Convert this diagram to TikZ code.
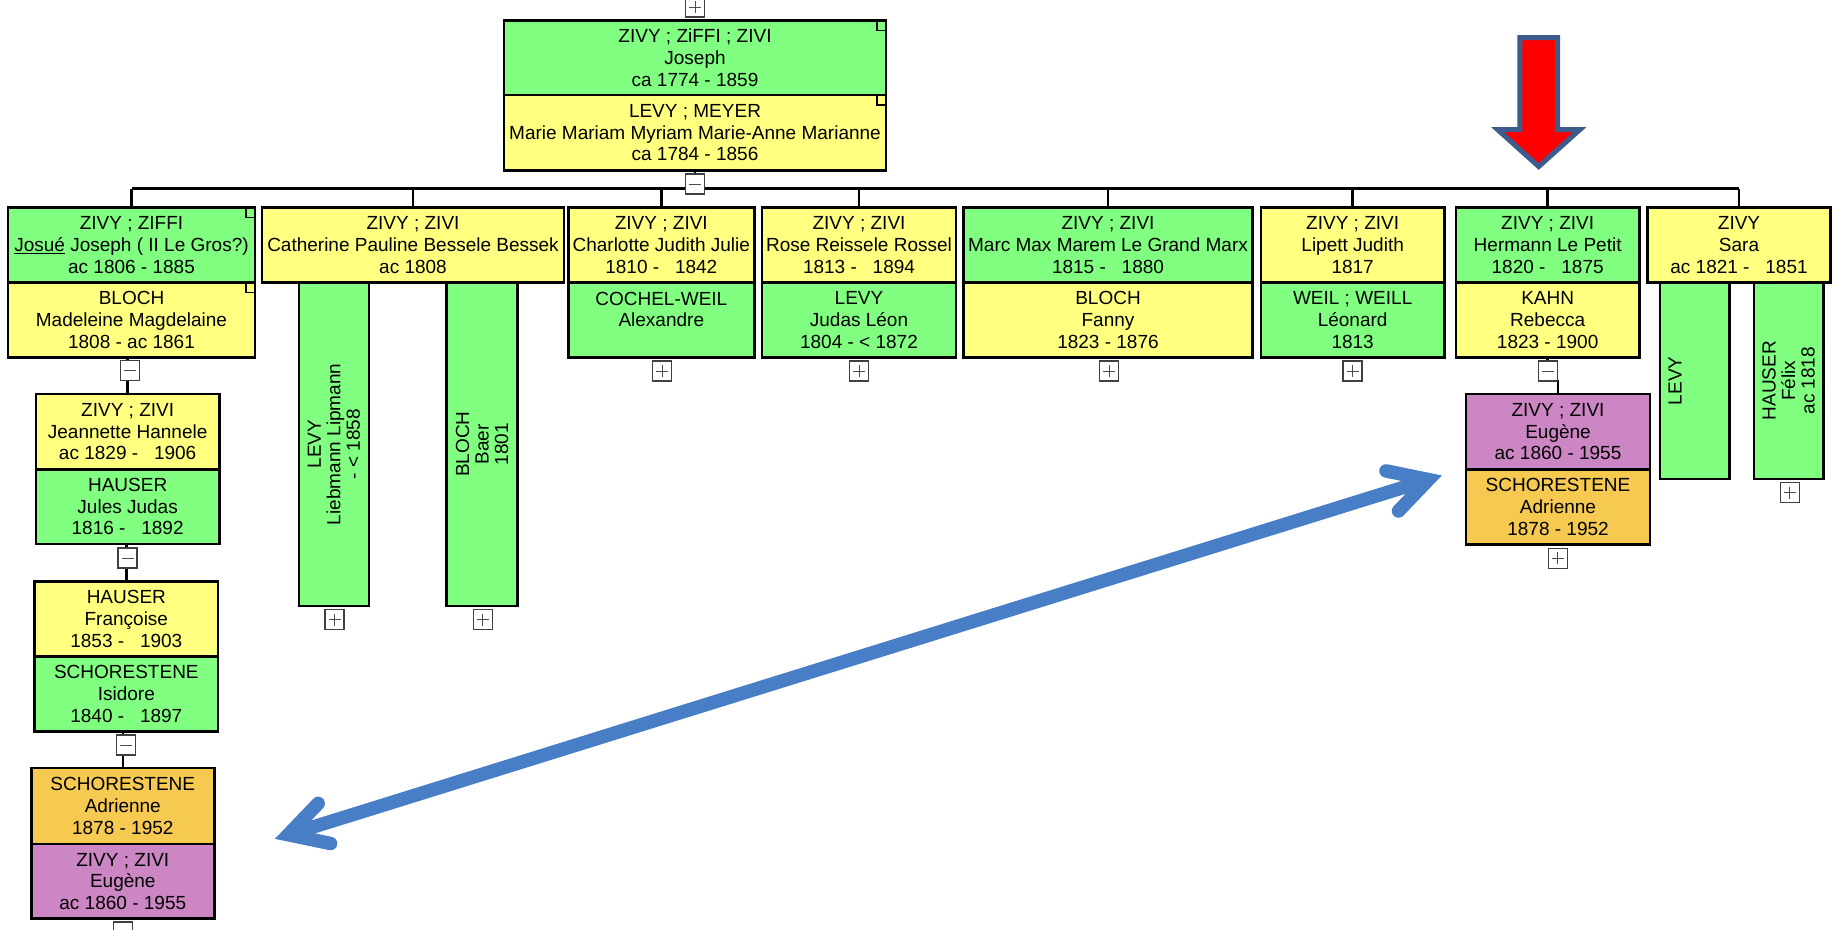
\documentclass[tikz,border=0pt]{standalone}
\usepackage{fontspec}
\setmainfont{Liberation Sans}
\definecolor{pgreen}{RGB}{128,255,128}
\definecolor{pyellow}{RGB}{255,255,128}
\definecolor{ppurple}{RGB}{204,134,196}
\definecolor{porange}{RGB}{246,202,80}
\definecolor{arrowblue}{RGB}{71,126,198}
\definecolor{redline}{RGB}{59,92,140}
\newcommand{\pfont}{\fontsize{19}{21.7}\selectfont}
\newcommand{\vfont}{\fontsize{19}{19.5}\selectfont}
% person box by corners: name, colour, x1, y1, x2, y2, text
\newcommand{\pbx}[7]{\node[pbox,fill=#2,minimum width={#5-#3},minimum height={#6-#4}] (#1) at ({(#3+#5)/2},{(#4+#6)/2}) {#7};}
% vertical (rotated) person box: name, x1, y1, x2, y2, text
\newcommand{\vbx}[6]{\node[vbox,minimum width={#5-#3},minimum height={#4-#2}] (#1) at ({(#2+#4)/2},{(#3+#5)/2}) {#6};}
\begin{document}
\begin{tikzpicture}[x=1pt,y=-1pt,
  pbox/.style={draw,line width=2.6pt,inner sep=0pt,outer sep=0pt,align=center,font=\pfont},
  vbox/.style={pbox,fill=pgreen,rotate=90,font=\vfont},
  conn/.style={draw,line width=2.4pt},
  corner/.style={draw,line width=1.2pt},
  ctrl/.style={draw=black!75,fill=white,line width=1.1pt,minimum width=19pt,minimum height=20pt,inner sep=0pt},
  minusbox/.style={ctrl,path picture={\draw[line width=1pt,black!70] ([xshift=-6pt]path picture bounding box.center) -- ([xshift=6pt]path picture bounding box.center);}},
  plusbox/.style={ctrl,path picture={\draw[line width=1pt,black!70] ([xshift=-6pt]path picture bounding box.center) -- ([xshift=6pt]path picture bounding box.center) ([yshift=-6pt]path picture bounding box.center) -- ([yshift=6pt]path picture bounding box.center);}},
  bluearrow/.style={draw=arrowblue,line width=13.5pt},
  redarrow/.style={draw=redline,fill=red,line width=5pt,line join=miter}
]
\useasboundingbox (0,0) rectangle (1833,929);
\clip (0,0) rectangle (1833,929);
\fill[white] (0,0) rectangle (1833,929);

% ---------- person boxes ----------
\pbx{topA}{pgreen}{504}{20.7}{886}{95}{ZIVY ; ZiFFI ; ZIVI\\Joseph\\ca 1774 - 1859}
\pbx{topB}{pyellow}{504}{95}{886}{170.7}{LEVY ; MEYER\\Marie Mariam Myriam Marie-Anne Marianne\\ca 1784 - 1856}

\pbx{josA}{pgreen}{8}{207.7}{255}{282.5}{ZIVY ; ZIFFI\\\underline{Josué} Joseph ( II Le Gros?)\\ac 1806 - 1885}
\pbx{josB}{pyellow}{8}{282.5}{255}{357.7}{BLOCH\\Madeleine Magdelaine\\1808 - ac 1861}

\pbx{cath}{pyellow}{262}{207.7}{564}{282.5}{ZIVY ; ZIVI\\Catherine Pauline Bessele Bessek\\ac 1808}
\vbx{cathL}{299}{282.5}{369}{606}{LEVY\\Liebmann Lipmann\\- < 1858}
\vbx{cathB}{446.7}{282.5}{517.3}{606}{BLOCH\\Baer\\1801}

\pbx{chaA}{pyellow}{568.3}{207.7}{754.3}{282.5}{ZIVY ; ZIVI\\Charlotte Judith Julie\\1810 -~~~1842}
\pbx{chaB}{pgreen}{568.3}{282.5}{754.3}{357.7}{COCHEL-WEIL\\Alexandre\\~}

\pbx{rosA}{pyellow}{762}{207.7}{956}{282.5}{ZIVY ; ZIVI\\Rose Reissele Rossel\\1813 -~~~1894}
\pbx{rosB}{pgreen}{762}{282.5}{956}{357.7}{LEVY\\Judas Léon\\1804 - < 1872}

\pbx{marA}{pgreen}{963.3}{207.7}{1252.7}{282.5}{ZIVY ; ZIVI\\Marc Max Marem Le Grand Marx\\1815 -~~~1880}
\pbx{marB}{pyellow}{963.3}{282.5}{1252.7}{357.7}{BLOCH\\Fanny\\1823 - 1876}

\pbx{lipA}{pyellow}{1261}{207.7}{1444.3}{282.5}{ZIVY ; ZIVI\\Lipett Judith\\1817}
\pbx{lipB}{pgreen}{1261}{282.5}{1444.3}{357.7}{WEIL ; WEILL\\Léonard\\1813}

\pbx{herA}{pgreen}{1456}{207.7}{1639.3}{282.5}{ZIVY ; ZIVI\\Hermann Le Petit\\1820 -~~~1875}
\pbx{herB}{pyellow}{1456}{282.5}{1639.3}{357.7}{KAHN\\Rebecca\\1823 - 1900}

\pbx{sara}{pyellow}{1647.3}{207.7}{1830.7}{282.5}{ZIVY\\Sara\\ac 1821 -~~~1851}
\vbx{saraL}{1660}{282.5}{1729.3}{479}{LEVY\\~\\~}
\vbx{saraH}{1754}{282.5}{1823.3}{479}{HAUSER\\Félix\\ac 1818}

\pbx{eugA}{ppurple}{1466}{394}{1650}{469.3}{ZIVY ; ZIVI\\Eugène\\ac 1860 - 1955}
\pbx{eugB}{porange}{1466}{469.3}{1650}{544.3}{SCHORESTENE\\Adrienne\\1878 - 1952}

\pbx{jeaA}{pyellow}{36}{394}{219.3}{469.3}{ZIVY ; ZIVI\\Jeannette Hannele\\ac 1829 -~~~1906}
\pbx{jeaB}{pgreen}{36}{469.3}{219.3}{544}{HAUSER\\Jules Judas\\1816 -~~~1892}

\pbx{fraA}{pyellow}{34.7}{581.3}{218}{656.6}{HAUSER\\Françoise\\1853 -~~~1903}
\pbx{fraB}{pgreen}{34.7}{656.6}{218}{731.2}{SCHORESTENE\\Isidore\\1840 -~~~1897}

\pbx{adrA}{porange}{31.3}{768}{214.3}{844}{SCHORESTENE\\Adrienne\\1878 - 1952}
\pbx{adrB}{ppurple}{31.3}{844}{214.3}{918.5}{ZIVY ; ZIVI\\Eugène\\ac 1860 - 1955}

% small corner markers (inside the top right corner)
\foreach \n in {topA,topB,josA,josB}
  \draw[corner] ([xshift=-9pt]\n.north east) rectangle ([yshift=-10pt]\n.north east);

% ---------- connectors ----------
\coordinate (bus) at (0,188.5);
\draw[conn] (topB.south) -- (topB.south |- bus);
\draw[conn] (josA.north |- bus) -- (sara.north |- bus);
\foreach \n in {josA,cath,chaA,rosA,marA,lipA,herA,sara}
  \draw[conn] (\n.north) -- (\n.north |- bus);

\draw[conn] (jeaA.north) -- (jeaA.north |- josB.south);
\draw[conn] (fraA.north) -- (fraA.north |- jeaB.south);
\draw[conn] (adrA.north) -- (adrA.north |- fraB.south);
\draw[conn] (herB.south) -- ++(0,12);
\draw[conn] (eugA.north) -- ++(0,-14);

% ---------- expand / collapse boxes ----------
\node[plusbox] (ptop) at (695,7) {};
\node[minusbox] (mtop) at (695,184) {};
\node[minusbox] (mjos) at (130,370.5) {};
\node[minusbox] (mjea) at (127.5,558) {};
\node[minusbox] (mfra) at (126.3,745) {};
\node[minusbox] (madr) at (123,932) {};
\node[plusbox] (pcl) at (334.5,619.5) {};
\node[plusbox] (pcb) at (482.8,619.5) {};
\node[plusbox] (pcha) at (662,371) {};
\node[plusbox] (pros) at (859,371) {};
\node[plusbox] (pmar) at (1109,371) {};
\node[plusbox] (plip) at (1352.5,371) {};
\node[minusbox] (mher) at (1547.7,371) {};
\node[plusbox] (psar) at (1789.7,492.7) {};
\node[plusbox] (peug) at (1557.8,558.3) {};

% ---------- red arrow ----------
\draw[redarrow] (1519.8,37.5) -- (1557.5,37.5) -- (1557.5,129.5) -- (1580,129.5)
  -- (1538.7,166.5) -- (1497.5,129.5) -- (1519.8,129.5) -- cycle;

% ---------- blue double arrow ----------
\coordinate (bl) at (288.2,834.7);
\coordinate (br) at (1428.5,479.6);
\coordinate (bl1) at (318.2,803.4);
\coordinate (bl2) at (330.6,843.5);
\coordinate (br1) at (1386.0,470.9);
\coordinate (br2) at (1398.5,511);
\draw[bluearrow] (bl) -- (br);
\draw[bluearrow,line cap=round,line join=miter] (bl1) -- (bl) -- (bl2);
\draw[bluearrow,line cap=round,line join=miter] (br1) -- (br) -- (br2);
\end{tikzpicture}
\end{document}
